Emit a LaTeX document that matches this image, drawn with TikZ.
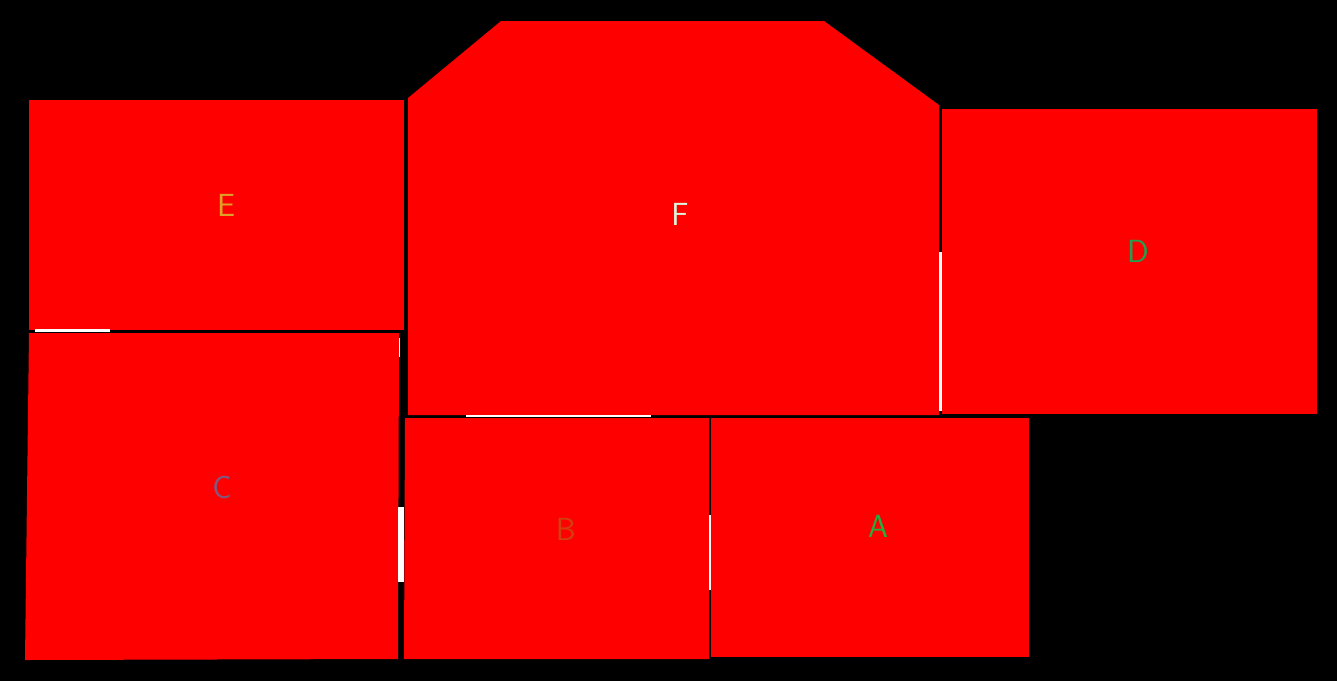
\documentclass[tikz,border=0pt]{standalone}
\begin{document}
\begin{tikzpicture}[x=1pt,y=-1pt,
  room/.style={fill=red,draw=none},
  door/.style={fill=white,draw=none},
  lbl/.style={font=\sffamily\fontsize{32}{32}\selectfont,inner sep=0pt}]
\fill[black] (0,0) rectangle (1337,681);
\useasboundingbox (0,0) rectangle (1337,681);
% rooms
\path[room] (29,100) -- (404,100) -- (404,330) -- (29,330) -- cycle;
\path[room] (29,333) -- (399,333) -- (398,659) -- (25,660) -- cycle;
\path[room] (408,98) -- (501,21) -- (824,21) -- (939,105) -- (939,415) -- (408,415) -- cycle;
\path[room] (942,109) -- (1317,109) -- (1317,414) -- (942,414) -- cycle;
\path[room] (405,418) -- (709,418) -- (709,659) -- (404,659) -- cycle;
\path[room] (711,418) -- (1029,418) -- (1029,657) -- (711,657) -- cycle;
% openings
\path[door] (35,329) rectangle (110,332);
\path[door] (398,507) rectangle (404,582);
\path[door] (466,414.5) rectangle (651,417);
\path[door] (709,515) rectangle (711,590);
\path[door] (939,252) rectangle (941.5,411);
\path[door] (398.5,338) rectangle (400,357);
% labels
\node[lbl,text={rgb,255:red,224;green,160;blue,40}] (E) at (226,205) {E};
\node[lbl,text={rgb,255:red,220;green,245;blue,220}] (F) at (680,214) {F};
\node[lbl,text={rgb,255:red,32;green,160;blue,80}] (D) at (1138,251) {D};
\node[lbl,text={rgb,255:red,128;green,88;blue,128}] (C) at (222,487) {C};
\node[lbl,text={rgb,255:red,210;green,64;blue,16}] (B) at (566,529) {B};
\node[lbl,text={rgb,255:red,32;green,176;blue,64}] (A) at (878,526) {A};
\end{tikzpicture}
\end{document}
